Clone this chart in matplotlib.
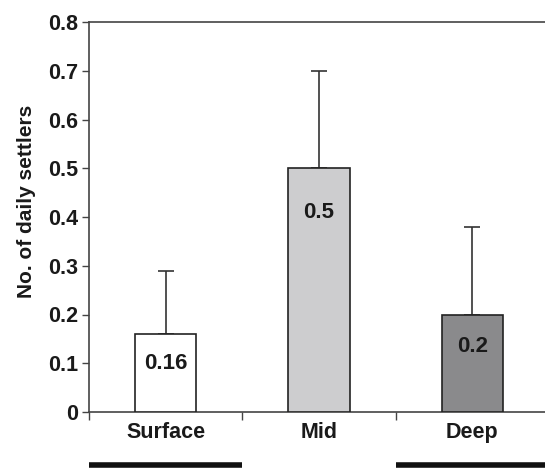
import numpy as np
import matplotlib.pyplot as plt

plt.rcParams['font.family'] = ['Liberation Sans', 'DejaVu Sans']
plt.rcParams['font.weight'] = 'bold'

categories = ["Surface", "Mid", "Deep"]
means = [0.16, 0.5, 0.2]
upper_err = [0.13, 0.2, 0.18]
value_labels = ["0.16", "0.5", "0.2"]
label_y = [0.10, 0.41, 0.135]
bar_colors = ["#ffffff", "#cdcdcf", "#8a8a8c"]
yticks = [0, 0.1, 0.2, 0.3, 0.4, 0.5, 0.6, 0.7, 0.8]
ytick_labels = ["0", "0.1", "0.2", "0.3", "0.4", "0.5", "0.6", "0.7", "0.8"]

fig = plt.figure(figsize=(5.45, 4.76), dpi=100)
ax = fig.add_axes([89/545, (476-412)/476, (549-89)/545, (412-22)/476])

x = np.arange(len(categories))
ax.bar(x, means, width=0.4, color=bar_colors, edgecolor="#222222", linewidth=1.2, zorder=3)
ax.errorbar(x, means, yerr=[np.zeros(3), upper_err], fmt="none", ecolor="#333333",
            elinewidth=1.2, capsize=5.5, capthick=1.2, zorder=2)

for xi, ly, lab in zip(x, label_y, value_labels):
    ax.text(xi, ly, lab, ha="center", va="center", fontsize=16, fontweight="bold", color="#1a1a1a", zorder=4)

ax.set_xlim(-0.5, 2.5)
ax.set_ylim(0, 0.8)
ax.set_yticks(yticks)
ax.set_yticklabels(ytick_labels, fontsize=15.5, fontweight="bold", color="#1a1a1a")
ax.set_xticks([-0.5, 0.5, 1.5, 2.5])
ax.set_xticklabels([])
ax.tick_params(axis="y", direction="out", length=5, width=1, color="#444444", pad=3)
ax.tick_params(axis="x", direction="out", length=6, width=1, color="#444444")
ax.spines["right"].set_visible(False)
for s in ["left", "top", "bottom"]:
    ax.spines[s].set_color("#444444")
    ax.spines[s].set_linewidth(1.2)

for xi, cat in zip(x, categories):
    ax.text(xi, -0.052, cat, transform=ax.get_xaxis_transform(), ha="center", va="center",
            fontsize=15.5, fontweight="bold", color="#1a1a1a")

# black bars under Surface and Deep
for xi in [0, 2]:
    ax.plot([xi - 0.5, xi + 0.5], [-0.136, -0.136], transform=ax.get_xaxis_transform(),
            color="#111111", linewidth=4, solid_capstyle="butt", clip_on=False)

ax.set_ylabel("No. of daily settlers", fontsize=15, fontweight="bold", color="#1a1a1a")
ax.yaxis.set_label_coords(-0.115, 0.54)

fig.savefig("out.png", dpi=100)
